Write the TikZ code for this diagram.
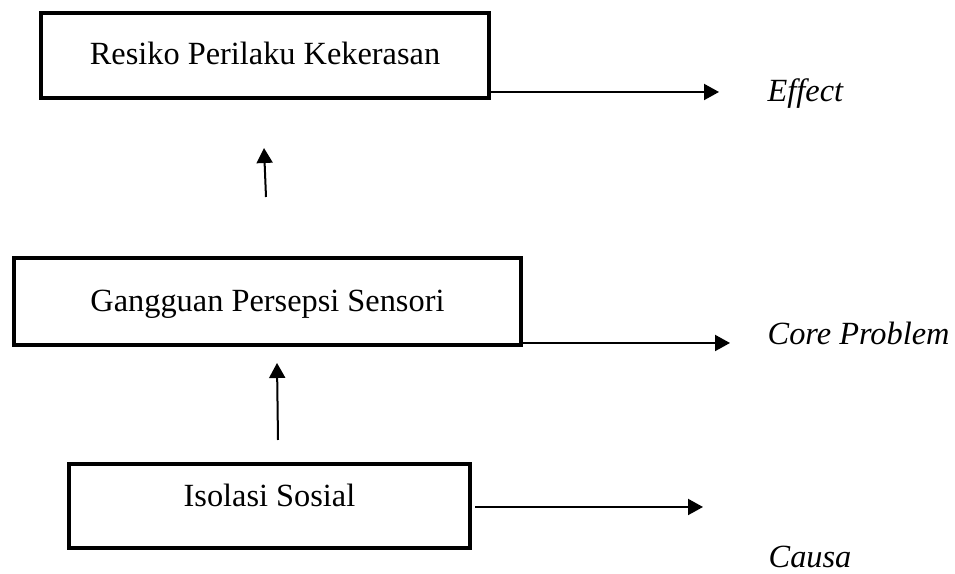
\documentclass[tikz,border=0pt]{standalone}
\usepackage{fontspec}
\setmainfont{Liberation Serif}
\usetikzlibrary{arrows.meta}
\begin{document}
\begin{tikzpicture}[x=0.01cm, y=-0.01cm,
        font=\fontsize{9.2}{11}\selectfont,
        kotak/.style={draw, line width=0.04cm, inner sep=0pt, anchor=base},
        panah/.style={line width=0.02cm, -{Triangle[length=0.15cm, width=0.16cm]}},
        ket/.style={anchor=base west, inner sep=0pt, font=\fontsize{9.2}{11}\selectfont\itshape}]
            \useasboundingbox (0,0) rectangle (955,574);
            \node[kotak, minimum width=4.48cm, text height=0.52cm, text depth=0.33cm] (rpk) at (265,65) {Resiko Perilaku Kekerasan};
            \node[kotak, minimum width=5.07cm, text height=0.54cm, text depth=0.33cm] (gps) at (267.5,312) {Gangguan Persepsi Sensori};
            \node[kotak, minimum width=4.01cm, text height=0.43cm, text depth=0.41cm] (isos) at (269.5,507) {Isolasi Sosial};
            \node[ket] (effect) at (767,102) {Effect};
            \node[ket] (core) at (767,345) {Core Problem};
            \node[ket] (causa) at (768,568) {Causa};
            \coordinate (ujung1) at (719,92);
            \coordinate (ujung2) at (730,343);
            \coordinate (ujung3) at (703,507);
            \coordinate (naik1a) at (266,197);
            \coordinate (naik1b) at (264,148);
            \coordinate (naik2a) at (278,440);
            \coordinate (naik2b) at (277,363);
            \draw[panah] (rpk.east |- ujung1) -- (ujung1);
            \draw[panah] (gps.east |- ujung2) -- (ujung2);
            \draw[panah] ([xshift=0.03cm]isos.east |- ujung3) -- (ujung3);
            \draw[panah] (naik1a) -- (naik1b);
            \draw[panah] (naik2a) -- (naik2b);
        \end{tikzpicture}
\end{document}
